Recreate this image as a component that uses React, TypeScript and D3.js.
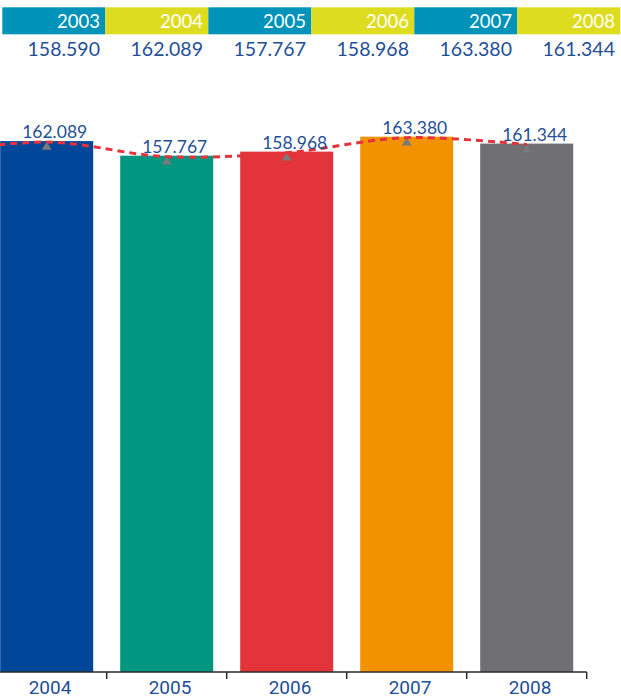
import React from "react";
import * as d3 from "d3";

const headerYears = ["2003", "2004", "2005", "2006", "2007", "2008"];
const headerValues = ["158.590", "162.089", "157.767", "158.968", "163.380", "161.344"];
const headerColors = ["#0093ba", "#dedc1f", "#0093ba", "#dedc1f", "#0093ba", "#dedc1f"];

const barYears = ["2004", "2005", "2006", "2007", "2008"];
const barValues = [162.089, 157.767, 158.968, 163.38, 161.344];
const barLabels = ["162.089", "157.767", "158.968", "163.380", "161.344"];
const barColors = ["#00479a", "#00967f", "#e3333b", "#f39200", "#706f71"];
const prevYearValue = 158.59; // 2003, off-chart start of the trend line

const W = 621;
const H = 698;

export default function App() {
  const headerX = d3.scaleBand<string>().domain(headerYears).range([2.3, 620.3]);

  const x = d3
    .scaleBand<string>()
    .domain(barYears)
    .range([-13.3, 586.7])
    .paddingInner(0.225)
    .paddingOuter(0.1125);
  const step = x.step();
  const bw = x.bandwidth();
  const cx = (yr: string) => (x(yr) as number) + bw / 2;

  const y = d3.scaleLinear().domain([5.24, 163.38]).range([672, 136.7]);
  const baseY = 672;

  const linePts: [number, number][] = [
    [cx(barYears[0]) - step, y(prevYearValue) + 1],
    ...barYears.map((yr, i) => [cx(yr), y(barValues[i]) + 1] as [number, number]),
  ];
  const lineGen = d3.line().curve(d3.curveCatmullRom.alpha(0.5));
  const linePath = lineGen(linePts) || "";

  const blue = "#1f4f97";

  return (
    <svg
      width={W}
      height={H}
      style={{ position: "absolute", left: 0, top: 0, display: "block" }}
    >
      <defs>
        <clipPath id="plotClip">
          <rect x={0} y={0} width={W} height={baseY} />
        </clipPath>
      </defs>
      {/* header */}
      {headerYears.map((yr, i) => {
        const bx = headerX(yr) as number;
        const bwid = headerX.bandwidth();
        return (
          <g key={yr}>
            <rect x={bx} y={7.3} width={bwid} height={27} fill={headerColors[i]} />
            <text
              x={bx + bwid - 5.3}
              y={28.3}
              textAnchor="end"
              fill="#ffffff"
              fontFamily="Lato, sans-serif"
              fontSize={18.5}
            >
              {yr}
            </text>
            <text
              x={bx + bwid - 5.3}
              y={56}
              textAnchor="end"
              fill={blue}
              fontFamily="Lato, sans-serif"
              fontSize={19.5}
            >
              {headerValues[i]}
            </text>
          </g>
        );
      })}

      {/* bars */}
      <g clipPath="url(#plotClip)">
        {barYears.map((yr, i) => (
          <rect
            key={yr}
            x={x(yr) as number}
            y={y(barValues[i])}
            width={bw}
            height={baseY - y(barValues[i])}
            fill={barColors[i]}
          />
        ))}
        {/* markers */}
        {barYears.map((yr, i) => {
          const px = cx(yr);
          const py = y(barValues[i]) + 0.8;
          return (
            <path
              key={"m" + yr}
              d={`M${px},${py} L${px + 5},${py + 8} L${px - 5},${py + 8} Z`}
              fill="#7a7a7a"
            />
          );
        })}
        <path
          d={linePath}
          fill="none"
          stroke="#e5323b"
          strokeWidth={3}
          strokeDasharray="7,5"
        />
      </g>

      {/* bar value labels */}
      {barYears.map((yr, i) => (
        <text
          key={"l" + yr}
          x={cx(yr) + 8}
          y={y(barValues[i]) - 2.8}
          textAnchor="middle"
          fill={blue}
          fontFamily="Lato, sans-serif"
          fontSize={17.5}
        >
          {barLabels[i]}
        </text>
      ))}

      {/* axis */}
      <line x1={0} x2={cx(barYears[4]) + step / 2} y1={baseY} y2={baseY} stroke="#2b2b2b" strokeWidth={1.5} />
      {barYears.map((yr) => (
        <line
          key={"t" + yr}
          x1={cx(yr) + step / 2}
          x2={cx(yr) + step / 2}
          y1={baseY}
          y2={679}
          stroke="#2b2b2b"
          strokeWidth={1.5}
        />
      ))}
      {barYears.map((yr) => (
        <text
          key={"a" + yr}
          x={cx(yr) + 3.3}
          y={694}
          textAnchor="middle"
          fill={blue}
          fontFamily="Roboto, sans-serif"
          fontSize={19}
        >
          {yr}
        </text>
      ))}
    </svg>
  );
}
